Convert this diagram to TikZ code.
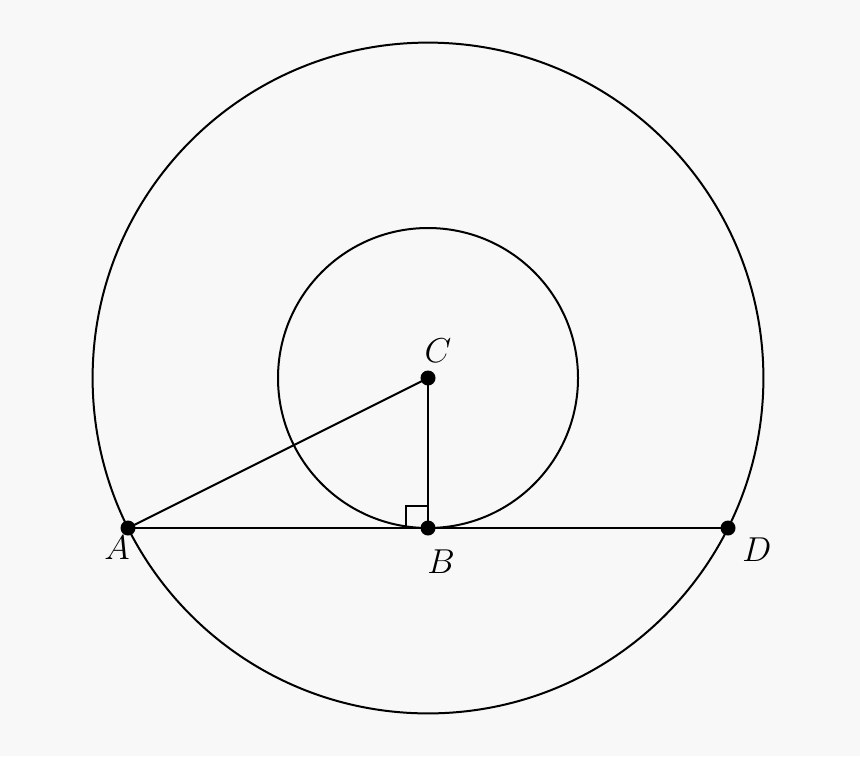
\documentclass[tikz,border=0pt]{standalone}
\begin{document}
\begin{tikzpicture}[x=0.5pt,y=-0.5pt,
  ln/.style={line width=1pt,black},
  pt/.style={circle,fill=black,inner sep=0pt,minimum size=7.5pt},
  lbl/.style={font=\fontsize{17}{20}\selectfont,inner sep=0pt}]
\definecolor{bgc}{HTML}{F8F8F8}
\fill[bgc] (0,0) rectangle (860,756);
\useasboundingbox (0,0) rectangle (860,756);
\coordinate (Cc) at (428,378);
\draw[ln] (Cc) circle[radius=335.4];
\draw[ln] (Cc) circle[radius=150];
\node[pt] (A) at (128,528) {};
\node[pt] (B) at (428,528) {};
\node[pt] (C) at (428,378) {};
\node[pt] (D) at (728,528) {};
\draw[ln] (A.center) -- (D.center);
\draw[ln] (A.center) -- (C.center);
\draw[ln] (C.center) -- (B.center);
\draw[ln] (406,528) -- (406,506) -- (428,506);
\node[lbl] (lA) at (117,548) {$A$};
\node[lbl] (lB) at (441,562) {$B$};
\node[lbl] (lC) at (438,351) {$C$};
\node[lbl] (lD) at (757,550) {$D$};
\end{tikzpicture}
\end{document}
